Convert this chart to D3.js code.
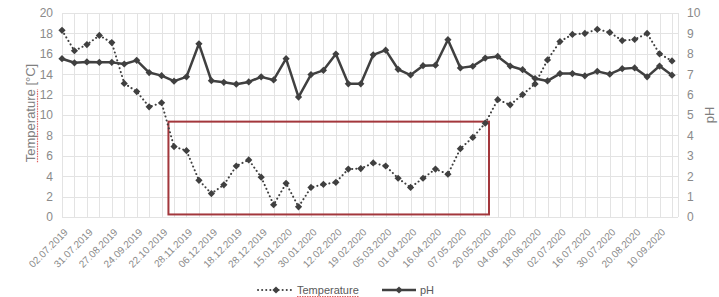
<!DOCTYPE html>
<html>
<head>
<meta charset="utf-8">
<script src="https://cdn.jsdelivr.net/npm/d3@7"></script>
<style>
body { margin: 0; background: #fff; }
text { font-family: "Liberation Sans", Arial, sans-serif; }
</style>
</head>
<body>
<svg width="719" height="297"></svg>
<script>
// labelled sampling dates (every second sample carries a label)
var dates = ["02.07.2019", "31.07.2019", "27.08.2019", "24.09.2019", "22.10.2019",
    "28.11.2019", "06.12.2019", "18.12.2019", "28.12.2019", "15.01.2020",
    "30.01.2020", "12.02.2020", "19.02.2020", "05.03.2020", "01.04.2020",
    "16.04.2020", "07.05.2020", "20.05.2020", "04.06.2020", "18.06.2020",
    "02.07.2020", "16.07.2020", "30.07.2020", "20.08.2020", "10.09.2020"];

var temperature = [18.3, 16.3, 16.9, 17.8, 17.1, 13.1, 12.3, 10.8, 11.2, 6.9,
    6.5, 3.6, 2.3, 3.15, 5.0, 5.6, 3.9, 1.2, 3.3, 1.0,
    2.9, 3.2, 3.4, 4.7, 4.75, 5.3, 5.0, 3.8, 2.9, 3.8,
    4.7, 4.2, 6.7, 7.8, 9.2, 11.5, 11.0, 12.0, 13.05, 15.4,
    17.2, 17.9, 18.0, 18.4, 18.1, 17.3, 17.4, 18.0, 16.0, 15.3];

var ph = [7.76, 7.56, 7.6, 7.58, 7.58, 7.5, 7.68, 7.08, 6.93, 6.66,
    6.87, 8.49, 6.68, 6.6, 6.51, 6.62, 6.87, 6.72, 7.76, 5.88,
    6.98, 7.19, 7.99, 6.53, 6.53, 7.95, 8.18, 7.24, 6.96, 7.42,
    7.44, 8.69, 7.31, 7.39, 7.79, 7.87, 7.4, 7.22, 6.79, 6.67,
    7.03, 7.03, 6.92, 7.14, 7.0, 7.27, 7.31, 6.87, 7.4, 6.95];

var tempTicks = [0, 2, 4, 6, 8, 10, 12, 14, 16, 18, 20];
var phTicks = [0, 1, 2, 3, 4, 5, 6, 7, 8, 9, 10];

// highlighted winter period (sample index range, temperature range)
var boxX = [8.55, 34.3];
var boxY = [0.25, 9.35];

function main() {
    var svg = d3.select("svg");
    var left = 62, right = 678, top = 13, bottom = 217;
    var n = temperature.length;

    var x = d3.scaleLinear().domain([0, n - 1]).range([left, 672]);
    var yT = d3.scaleLinear().domain([0, 20]).range([bottom, top]);
    var yP = d3.scaleLinear().domain([0, 10]).range([bottom, top]);

    var grid = svg.append("g").attr("stroke", "#e3e3e3").attr("stroke-width", 1);
    grid.selectAll(".h")
        .data(tempTicks)
        .enter().append("line")
        .attr("x1", left).attr("x2", right)
        .attr("y1", function(d) { return Math.round(yT(d)) + 0.5; })
        .attr("y2", function(d) { return Math.round(yT(d)) + 0.5; });
    grid.selectAll(".v")
        .data(d3.range(n))
        .enter().append("line")
        .attr("x1", function(d) { return Math.round(x(d)) + 0.5; })
        .attr("x2", function(d) { return Math.round(x(d)) + 0.5; })
        .attr("y1", top).attr("y2", bottom);
    grid.append("line")
        .attr("x1", right + 0.5).attr("x2", right + 0.5)
        .attr("y1", top).attr("y2", bottom);

    // left axis
    var ya = svg.append("g")
        .attr("transform", "translate(" + left + ",0)")
        .call(d3.axisLeft(yT).tickValues(tempTicks).tickSize(0).tickPadding(9));
    ya.select(".domain").remove();
    ya.selectAll("text").attr("fill", "#8a8a8a").style("font-size", "12px");

    // right axis
    var yb = svg.append("g")
        .attr("transform", "translate(" + right + ",0)")
        .call(d3.axisRight(yP).tickValues(phTicks).tickSize(0).tickPadding(9));
    yb.select(".domain").remove();
    yb.selectAll("text").attr("fill", "#8a8a8a").style("font-size", "12px");

    // x axis
    var xa = svg.append("g")
        .attr("transform", "translate(0," + bottom + ")")
        .call(d3.axisBottom(x)
            .tickValues(d3.range(0, n, 2))
            .tickFormat(function(i) { return dates[i / 2]; })
            .tickSize(0));
    xa.select(".domain").remove();
    xa.selectAll("text")
        .attr("fill", "#8a8a8a")
        .style("font-size", "10px")
        .style("text-anchor", "end")
        .attr("x", -7)
        .attr("y", 12)
        .attr("dy", "0.35em")
        .attr("transform", "rotate(-45)");

    // axis titles
    var tt = svg.append("text")
        .attr("transform", "translate(35,113) rotate(-90)")
        .attr("text-anchor", "middle")
        .attr("fill", "#808080")
        .style("font-size", "13px");
    var tw = tt.append("tspan").text("Temperature");
    tt.append("tspan").text(" [°C]");
    var full = tt.node().getComputedTextLength();
    var part = tw.node().getComputedTextLength();
    svg.append("line")
        .attr("x1", 37.5).attr("x2", 37.5)
        .attr("y1", 113 + full / 2).attr("y2", 113 + full / 2 - part)
        .attr("stroke", "#e06060").attr("stroke-width", 1.2)
        .attr("stroke-dasharray", "1.5,1");

    svg.append("text")
        .attr("transform", "translate(714,115) rotate(-90)")
        .attr("text-anchor", "middle")
        .attr("fill", "#808080")
        .style("font-size", "13px")
        .text("pH");

    // highlight box
    svg.append("rect")
        .attr("x", x(boxX[0]))
        .attr("y", yT(boxY[1]))
        .attr("width", x(boxX[1]) - x(boxX[0]))
        .attr("height", yT(boxY[0]) - yT(boxY[1]))
        .attr("fill", "none")
        .attr("stroke", "#a3373c")
        .attr("stroke-width", 2);

    var diamond = d3.symbol().type(d3.symbolSquare).size(26);

    // temperature series
    var lineT = d3.line().x(function(d, i) { return x(i); }).y(function(d) { return yT(d); });
    svg.append("path")
        .datum(temperature)
        .attr("d", lineT)
        .attr("fill", "none")
        .attr("stroke", "#404040")
        .attr("stroke-width", 2)
        .attr("stroke-linecap", "round")
        .attr("stroke-dasharray", "0.1,4");
    svg.selectAll(".tmark")
        .data(temperature)
        .enter().append("path")
        .attr("class", "tmark")
        .attr("d", diamond)
        .attr("fill", "#404040")
        .attr("transform", function(d, i) { return "translate(" + x(i) + "," + yT(d) + ") rotate(45)"; });

    // pH series
    var lineP = d3.line().x(function(d, i) { return x(i); }).y(function(d) { return yP(d); });
    svg.append("path")
        .datum(ph)
        .attr("d", lineP)
        .attr("fill", "none")
        .attr("stroke", "#404040")
        .attr("stroke-width", 2.5)
        .attr("stroke-linejoin", "round");
    svg.selectAll(".pmark")
        .data(ph)
        .enter().append("path")
        .attr("class", "pmark")
        .attr("d", diamond)
        .attr("fill", "#404040")
        .attr("transform", function(d, i) { return "translate(" + x(i) + "," + yP(d) + ") rotate(45)"; });

    // legend
    var lg = svg.append("g").attr("transform", "translate(0,290)");
    lg.append("line")
        .attr("x1", 258).attr("x2", 294).attr("y1", 0).attr("y2", 0)
        .attr("stroke", "#404040").attr("stroke-width", 2)
        .attr("stroke-linecap", "round").attr("stroke-dasharray", "0.1,4");
    lg.append("path").attr("d", diamond).attr("fill", "#404040")
        .attr("transform", "translate(276,0) rotate(45)");
    var lt = lg.append("text")
        .attr("x", 297).attr("y", 4)
        .attr("fill", "#595959")
        .style("font-size", "11px")
        .text("Temperature");
    var lw = lt.node().getComputedTextLength();
    lg.append("line")
        .attr("x1", 297).attr("x2", 297 + lw).attr("y1", 6.5).attr("y2", 6.5)
        .attr("stroke", "#e06060").attr("stroke-width", 1.2)
        .attr("stroke-dasharray", "1.5,1");

    lg.append("line")
        .attr("x1", 382).attr("x2", 416).attr("y1", 0).attr("y2", 0)
        .attr("stroke", "#404040").attr("stroke-width", 2.5);
    lg.append("path").attr("d", diamond).attr("fill", "#404040")
        .attr("transform", "translate(399,0) rotate(45)");
    lg.append("text")
        .attr("x", 420).attr("y", 4)
        .attr("fill", "#595959")
        .style("font-size", "11px")
        .text("pH");
}

main();
</script>
</body>
</html>
